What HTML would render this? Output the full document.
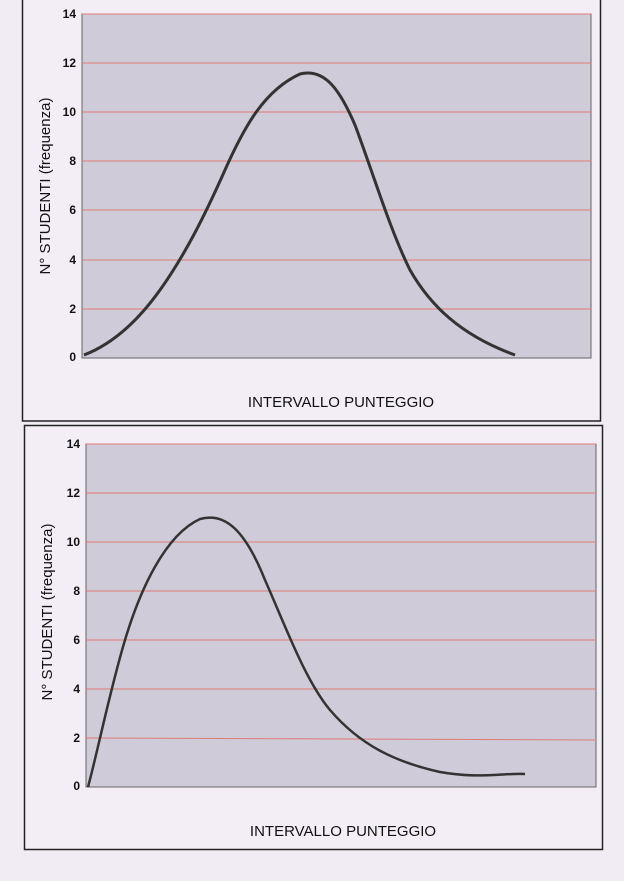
<!DOCTYPE html>
<html><head><meta charset="utf-8"><style>
body{margin:0;background:#f1ecf4;}
svg{display:block;font-family:"Liberation Sans",sans-serif;}
</style></head><body>
<svg width="624" height="881" viewBox="0 0 624 881">
<rect width="624" height="881" fill="#f1ecf4"/>
<rect x="22.5" y="-2" width="578" height="423" fill="#f3eef6" stroke="#222" stroke-width="1.5"/>
<rect x="82" y="14" width="509" height="344" fill="#cfcbd8" stroke="#666" stroke-width="1"/>
<g stroke="#e07a7a" stroke-width="1">
<line x1="82" y1="14" x2="591" y2="14"/><line x1="82" y1="63" x2="591" y2="63"/>
<line x1="82" y1="112" x2="591" y2="112"/><line x1="82" y1="161" x2="591" y2="161"/>
<line x1="82" y1="210" x2="591" y2="210"/><line x1="82" y1="260" x2="591" y2="260"/>
<line x1="82" y1="309" x2="591" y2="309"/>
</g>
<g font-size="12" font-weight="bold" text-anchor="end" fill="#111">
<text x="76" y="18">14</text><text x="76" y="67">12</text><text x="76" y="116">10</text>
<text x="76" y="165">8</text><text x="76" y="214">6</text><text x="76" y="264">4</text>
<text x="76" y="313">2</text><text x="76" y="361">0</text>
</g>
<text transform="translate(50,186) rotate(-90)" font-size="15" text-anchor="middle" fill="#111">N° STUDENTI (frequenza)</text>
<text x="341" y="407" font-size="15" text-anchor="middle" fill="#111">INTERVALLO PUNTEGGIO</text>
<path d="M84,355 C110,345 135,325 160,290 C185,255 205,215 225,170 C245,125 265,90 300,74 C325,68 340,90 355,125 C372,170 390,230 410,270 C430,305 460,335 515,355" fill="none" stroke="#333" stroke-width="3"/>
<rect x="24.5" y="425.5" width="578" height="424" fill="#f3eef6" stroke="#222" stroke-width="1.5"/>
<rect x="86" y="444" width="510" height="343" fill="#cfcbd8" stroke="#666" stroke-width="1"/>
<g stroke="#e07a7a" stroke-width="1">
<line x1="86" y1="444" x2="596" y2="444"/><line x1="86" y1="493" x2="596" y2="493"/>
<line x1="86" y1="542" x2="596" y2="542"/><line x1="86" y1="591" x2="596" y2="591"/>
<line x1="86" y1="640" x2="596" y2="640"/><line x1="86" y1="689" x2="596" y2="689"/>
<line x1="86" y1="738" x2="596" y2="740"/>
</g>
<g font-size="12" font-weight="bold" text-anchor="end" fill="#111">
<text x="80" y="448">14</text><text x="80" y="497">12</text><text x="80" y="546">10</text>
<text x="80" y="595">8</text><text x="80" y="644">6</text><text x="80" y="693">4</text>
<text x="80" y="742">2</text><text x="80" y="790">0</text>
</g>
<text transform="translate(52,612) rotate(-90)" font-size="15" text-anchor="middle" fill="#111">N° STUDENTI (frequenza)</text>
<text x="343" y="836" font-size="15" text-anchor="middle" fill="#111">INTERVALLO PUNTEGGIO</text>
<path d="M88,787 C98,750 110,690 125,640 C140,590 165,535 200,519 C225,512 245,530 265,580 C285,625 305,680 330,710 C360,745 395,762 440,772 C480,779 500,773 525,774" fill="none" stroke="#333" stroke-width="2.5"/>
</svg>
</body></html>
